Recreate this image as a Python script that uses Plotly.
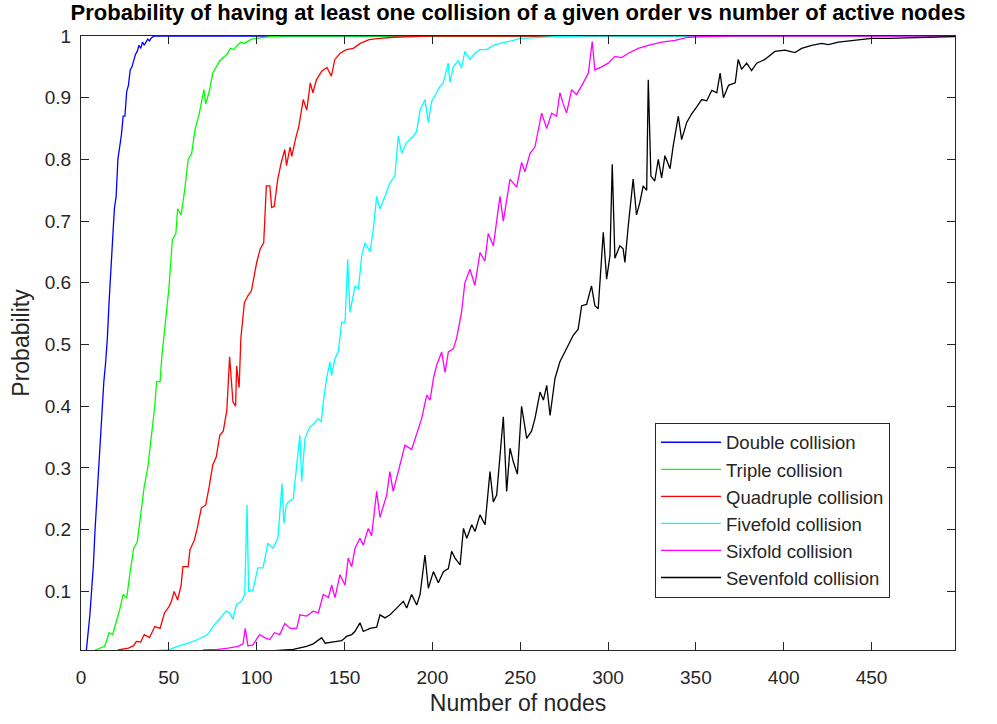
import plotly.graph_objects as go

# ---------------- data ----------------
series_names = ["Double collision", "Triple collision", "Quadruple collision",
                "Fivefold collision", "Sixfold collision", "Sevenfold collision"]
series_colors = ["#0000FF", "#00FF00", "#FF0000", "#00FFFF", "#FF00FF", "#000000"]

double_pts = [(3,0.003),(4,0.03),(5,0.06),(6,0.10),(7,0.14),(8,0.20),(9,0.25),(10,0.31),(11,0.36),
              (12,0.41),(13,0.44),(14,0.47),(15,0.51),(16,0.57),(17,0.63),(18,0.67),(19,0.72),(20,0.74),
              (21,0.80),(22,0.82),(23,0.84),(24,0.87),(25,0.87),(26,0.91),(27,0.92),(28,0.945),(29,0.95),
              (30,0.96),(31,0.97),(32,0.975),(33,0.985),(34,0.98),(35,0.99),(36,0.985),(37,0.99),
              (38,0.995),(39,0.992),(40,0.997),(41,0.999),(42,1.0),(500,1.0)]

triple_pts = [(8,0.005),(11,0.008),(13.5,0.011),(16,0.033),(18,0.03),(20,0.05),(22,0.07),(24,0.095),
              (26,0.089),(28,0.132),(30,0.17),(32,0.18),(34,0.23),(36,0.27),(38,0.30),(40,0.35),
              (42,0.40),(43,0.44),(45,0.44),(46,0.48),(48,0.53),(50,0.59),(52,0.67),(54,0.68),(55,0.72),
              (57,0.71),(59,0.75),(61,0.80),(63,0.81),(65,0.85),(67,0.87),(69,0.90),(70,0.913),(71,0.89),
              (72,0.90),(73,0.91),(75,0.94),(77,0.95),(79,0.96),(81,0.965),(83,0.97),(85,0.98),(87,0.978),
              (89,0.985),(91,0.99),(93,0.988),(95,0.992),(97,0.995),(100,0.996),(104,0.998),(108,0.999),
              (115,1.0),(500,1.0)]

quadruple_pts = [(21,0.005),(24,0.006),(27,0.008),(30,0.012),(31.5,0.019),(34,0.018),(36,0.03),(39,0.025),
                 (42,0.043),(45,0.04),(47.5,0.065),(50,0.075),(51.5,0.084),(53,0.10),(55,0.086),(57,0.11),
                 (58,0.14),(61,0.14),(62,0.167),(64.5,0.183),(66,0.20),(68.5,0.235),(71,0.24),(73,0.27),
                 (75,0.305),(77,0.318),(79,0.353),(81,0.36),(83,0.393),(84.6,0.48),(86.5,0.407),(88,0.40),
                 (88.6,0.465),(90,0.43),(91,0.51),(93,0.568),(95,0.579),(97,0.587),(100,0.633),(102,0.655),
                 (104,0.665),(105.5,0.757),(107.5,0.757),(108.5,0.722),(110,0.724),(112,0.768),(114,0.795),
                 (116,0.816),(117,0.79),(119,0.82),(120,0.805),(122,0.832),(124,0.854),(126.5,0.897),
                 (128.5,0.88),(130.5,0.924),(132,0.908),(134,0.929),(137,0.943),(140,0.949),(142.5,0.935),
                 (144.5,0.962),(147.5,0.972),(151,0.978),(155,0.98),(159,0.988),(164,0.994),(170,0.996),
                 (178,0.998),(189,0.999),(200,1.0),(500,1.0)]

fivefold_pts = [(42,0.004),(49.5,0.005),(55,0.011),(61,0.016),(66.5,0.022),(72,0.03),(76,0.046),(80,0.06),
                (82.7,0.068),(84.6,0.065),(86.5,0.055),(88.4,0.078),(91.2,0.084),(93.2,0.095),(94.5,0.24),
                (95.4,0.10),(97.8,0.102),(100.7,0.138),(103.6,0.138),(106.4,0.178),(109.3,0.17),
                (112.1,0.186),(114.4,0.275),(115.5,0.21),(116.8,0.24),(118,0.245),(120.8,0.25),
                (122.8,0.305),(124.6,0.353),(125.6,0.278),(127.5,0.348),(130.3,0.367),(132.2,0.37),
                (134.9,0.38),(136.8,0.375),(137.9,0.407),(139.8,0.445),(141.7,0.472),(142.6,0.45),
                (144.6,0.477),(146.5,0.49),(148.4,0.536),(150.3,0.536),(151.8,0.638),(153.1,0.552),
                (156,0.595),(157.9,0.59),(159.8,0.644),(161.7,0.665),(164.5,0.65),(166.4,0.687),
                (168.3,0.74),(170.2,0.72),(173,0.74),(175.8,0.762),(178.7,0.773),(180.6,0.838),
                (182.5,0.81),(185.3,0.827),(189.2,0.838),(191,0.845),(193,0.88),(195.8,0.897),
                (197.7,0.86),(199.6,0.894),(202.4,0.908),(204.3,0.918),(206.2,0.924),(209,0.956),
                (210,0.925),(211.9,0.95),(214.7,0.96),(216.6,0.948),(218.5,0.975),(221.4,0.962),
                (224.2,0.972),(227.1,0.978),(230.9,0.978),(234.7,0.985),(238.5,0.988),(242.3,0.99),
                (246.1,0.993),(249.9,0.996),(261.3,0.998),(270.8,0.999),(290,1.0),(500,1.0)]

sixfold_pts = [(69.4,0.005),(78,0.006),(83.7,0.008),(89.4,0.011),(92.2,0.015),(93.5,0.04),(95,0.012),
               (97.8,0.013),(101.7,0.03),(104.5,0.025),(107.4,0.022),(110.2,0.033),(113.1,0.03),(116,0.048),
               (119,0.04),(122.8,0.04),(124.6,0.062),(128.4,0.06),(132.2,0.068),(135.1,0.065),(137.9,0.095),
               (140.8,0.09),(142.7,0.11),(144.6,0.09),(147.4,0.127),(150.3,0.11),(152.1,0.154),(154.1,0.14),
               (156,0.17),(158.8,0.186),(160.7,0.175),(163.5,0.202),(165.4,0.19),(168.3,0.262),(170.2,0.22),
               (174,0.256),(175.8,0.294),(177.7,0.262),(180.6,0.294),(184.4,0.337),(188.2,0.33),(191,0.353),
               (193.9,0.38),(196.8,0.418),(198.7,0.41),(200.6,0.445),(202.4,0.466),(205.3,0.488),
               (207.2,0.455),(209.1,0.488),(211.9,0.493),(213.8,0.51),(216.6,0.552),(218.5,0.60),
               (221.4,0.622),(224.2,0.596),(227.1,0.649),(229.9,0.635),(231.8,0.68),(234.7,0.66),
               (238.5,0.74),(240.4,0.70),(244.2,0.768),(248,0.755),(250.8,0.795),(252.7,0.78),(255.6,0.81),
               (258.4,0.82),(262.2,0.875),(265.1,0.85),(267.9,0.875),(270.7,0.87),(272.6,0.908),(274.5,0.89),
               (276.4,0.875),(279.3,0.913),(282.1,0.905),(285.9,0.924),(288.8,0.94),(291,0.991),(292.5,0.945),
               (296.4,0.95),(300.1,0.956),(303.9,0.967),(307.8,0.965),(311.6,0.972),(317.2,0.98),
               (322.9,0.985),(330.5,0.99),(338.1,0.993),(345.7,0.998),(355.2,0.999),(370,1.0),(500,1.0)]

sevenfold_pts = [(100,0.002),(113.3,0.005),(120.8,0.006),(128.4,0.011),(132.2,0.015),(137,0.025),(139,0.016),
                 (143.7,0.018),(148.4,0.02),(151.2,0.027),(154.1,0.03),(155.9,0.035),(158.8,0.049),
                 (160.7,0.035),(164.5,0.04),(168.3,0.042),(170.2,0.062),(173,0.057),(175.9,0.062),(178.7,0.07),
                 (181.6,0.078),(183.5,0.084),(185.4,0.073),(188.2,0.095),(191.1,0.078),(193,0.095),
                 (195.8,0.159),(197.7,0.105),(200.6,0.132),(203.4,0.114),(206.3,0.132),(209.1,0.137),
                 (211,0.165),(212.9,0.154),(215.8,0.143),(217.7,0.202),(219.6,0.186),(222.4,0.208),
                 (224.3,0.197),(227.1,0.224),(230,0.208),(232.8,0.294),(234.7,0.245),(236.6,0.256),
                 (240.4,0.383),(242.3,0.262),(244.2,0.332),(246.1,0.31),(248.4,0.29),(250.8,0.40),
                 (253.7,0.348),(256.5,0.36),(258.4,0.38),(261.3,0.423),(263.2,0.41),(265.1,0.434),
                 (267,0.385),(269.8,0.445),(272.6,0.472),(277.3,0.498),(280.2,0.515),(283,0.525),(285,0.563),
                 (287.8,0.565),(290.6,0.595),(292.5,0.563),(294.4,0.558),(297.3,0.682),(299.2,0.606),
                 (301.1,0.644),(302.4,0.792),(303.9,0.64),(306.7,0.66),(308.6,0.655),(309.6,0.633),
                 (311.5,0.692),(314.3,0.768),(316.2,0.71),(318.1,0.73),(320,0.757),(322,0.75),(322.9,0.929),
                 (324.4,0.773),(326.6,0.765),(328.6,0.80),(330.5,0.77),(332.4,0.806),(335.3,0.785),
                 (337.1,0.822),(340,0.87),(341.9,0.832),(344.8,0.86),(347.6,0.874),(350.5,0.885),
                 (353.3,0.897),(356.2,0.895),(359.1,0.912),(361.9,0.908),(363.8,0.94),(365.7,0.90),
                 (368.6,0.92),(372.4,0.924),(374.1,0.962),(376,0.946),(378.9,0.956),(381.7,0.944),
                 (384.6,0.956),(389.3,0.962),(395,0.975),(400.7,0.977),(406.4,0.973),(410.2,0.98),
                 (415.9,0.985),(421.6,0.988),(425.4,0.986),(431.1,0.99),(440.5,0.993),(450,0.996),
                 (459.5,0.996),(478.5,0.998),(497.5,0.999)]

x_ticks = [0, 50, 100, 150, 200, 250, 300, 350, 400, 450]
y_ticks = [0.1, 0.2, 0.3, 0.4, 0.5, 0.6, 0.7, 0.8, 0.9, 1.0]
y_tick_labels = ["0.1", "0.2", "0.3", "0.4", "0.5", "0.6", "0.7", "0.8", "0.9", "1"]

all_series = [double_pts, triple_pts, quadruple_pts, fivefold_pts, sixfold_pts, sevenfold_pts]

# ---------------- figure ----------------
FONT = "Liberation Sans, Arial, Helvetica, sans-serif"
AX = "#262626"

fig = go.Figure()
for name, color, pts in zip(series_names, series_colors, all_series):
    fig.add_trace(go.Scatter(
        x=[p[0] for p in pts], y=[p[1] for p in pts], mode="lines", name=name,
        line=dict(color=color, width=1.3)))

axis_common = dict(showgrid=False, zeroline=False, showline=True, linecolor=AX, linewidth=1,
                   mirror="ticks", ticks="inside", ticklen=8, tickcolor=AX, tickwidth=1,
                   tickfont=dict(family=FONT, size=19, color=AX))

fig.update_layout(
    width=997, height=724,
    margin=dict(l=81, r=42, t=36, b=72),
    paper_bgcolor="white", plot_bgcolor="white",
    title=dict(text="Probability of having at least one collision of a given order vs number of active nodes",
               x=0.5, xref="paper", xanchor="center", y=1 - 12 / 724, yref="container", yanchor="middle",
               font=dict(family=FONT, size=22, color="#000000", weight="bold")),
    xaxis=dict(range=[0, 497.5], tickvals=x_ticks, ticktext=[str(v) for v in x_ticks], ticklabelstandoff=10,
               title=dict(text="Number of nodes", standoff=8, font=dict(family=FONT, size=23, color=AX)),
               **axis_common),
    yaxis=dict(range=[0.005, 1.0], tickvals=y_ticks, ticktext=y_tick_labels, ticklabelstandoff=5,
               title=dict(text="Probability", standoff=8, font=dict(family=FONT, size=23, color=AX)),
               **axis_common),
    legend=dict(x=(655 - 81) / 874, y=(652 - 424) / 616, xanchor="left", yanchor="top",
                bgcolor="white", bordercolor=AX, borderwidth=1, itemwidth=60,
                font=dict(family=FONT, size=18.5, color=AX), tracegroupgap=0),
    showlegend=True,
)

fig.write_html("out.html")
